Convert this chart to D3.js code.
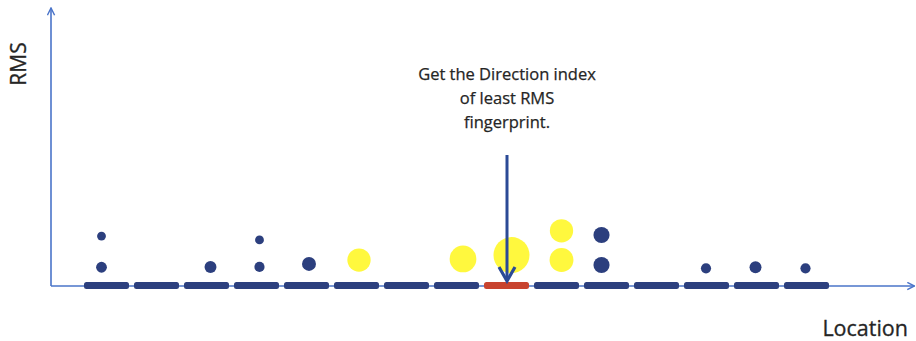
<!DOCTYPE html>
<html>
<head>
<meta charset="utf-8">
<script src="https://cdn.jsdelivr.net/npm/d3@7"></script>
<style>
  html, body { margin: 0; padding: 0; background: #fff; }
  svg { display: block; }
</style>
</head>
<body>
<svg id="chart" width="916" height="341"></svg>
<script>
// ---- data ----
const locations = [1, 2, 3, 4, 5, 6, 7, 8, 9, 10, 11, 12, 13, 14, 15];
const selectedLocation = 9;
const dotLocation = [0.90, 0.90, 3.08, 4.06, 4.06, 5.05, 6.05, 8.13, 9.10, 10.10, 10.10, 10.90, 10.90, 12.99, 13.98, 14.98];
const dotRMS      = [6.8, 18.1, 6.9, 6.9, 16.7, 8.0, 9.4, 9.8, 11.2, 20.0, 9.4, 18.5, 7.6, 6.4, 6.8, 6.4];
const dotWeight   = [9, 6, 11, 8, 6, 15, 42, 55, 100, 42, 44, 20, 20, 8, 11, 8];
const dotGroup    = ["n", "n", "n", "n", "n", "n", "y", "y", "y", "y", "y", "n", "n", "n", "n", "n"];
const annotation  = ["Get the Direction index", "of least RMS", "fingerprint."];
const xTitle = "Location";
const yTitle = "RMS";

// ---- drawing ----
const svg = d3.select("#chart");
const axisColor = "#4A74C9";
const navy = "#2C3F7E";
const red = "#C8432F";
const yellow = "#FFF72E";
const textColor = "#252525";

const x = d3.scaleLinear().domain([0, 17.1]).range([56.5, 911.5]);
const y = d3.scaleLinear().domain([0, 100]).range([286, 10]);
const r = d3.scaleSqrt().domain([0, 100]).range([0, 18]);
const axisX0 = 51;

const defs = svg.append("defs");
function arrowMarker(id, color, w) {
  defs.append("marker")
    .attr("id", id).attr("viewBox", "0 0 10 10")
    .attr("refX", 9).attr("refY", 5)
    .attr("markerWidth", w).attr("markerHeight", w)
    .attr("markerUnits", "userSpaceOnUse")
    .attr("orient", "auto")
    .append("path").attr("d", "M1,1 L9,5 L1,9")
    .attr("fill", "none").attr("stroke", color).attr("stroke-width", 1.6);
}
arrowMarker("axArrow", axisColor, 9);

// axes
svg.append("line")
  .attr("x1", axisX0).attr("y1", y(0)).attr("x2", axisX0).attr("y2", y(100) - 2)
  .attr("stroke", axisColor).attr("stroke-width", 1.6)
  .attr("marker-end", "url(#axArrow)");
svg.append("line")
  .attr("x1", axisX0).attr("y1", y(0)).attr("x2", x(17.1) + 3).attr("y2", y(0))
  .attr("stroke", axisColor).attr("stroke-width", 1.6)
  .attr("marker-end", "url(#axArrow)");

// location segments
const segW = 45, segH = 7;
svg.append("g").selectAll("rect").data(locations).join("rect")
  .attr("x", d => x(d) - segW / 2)
  .attr("y", y(0) - 4)
  .attr("width", segW).attr("height", segH)
  .attr("rx", 2.5).attr("ry", 2.5)
  .attr("fill", d => d === selectedLocation ? red : navy);

// dots
const dots = dotLocation.map((l, i) => ({ l, v: dotRMS[i], w: dotWeight[i], g: dotGroup[i] }));
svg.append("g").selectAll("circle").data(dots).join("circle")
  .attr("cx", d => x(d.l))
  .attr("cy", d => y(d.v))
  .attr("r", d => r(d.w))
  .attr("fill", d => d.g === "y" ? yellow : navy)
  .attr("opacity", d => d.g === "y" ? 0.92 : 1);

// pointer arrow
const px = x(selectedLocation) + 0.5;
svg.append("line")
  .attr("x1", px).attr("y1", 155).attr("x2", px).attr("y2", 281)
  .attr("stroke", "#2B4A96").attr("stroke-width", 3);
svg.append("path")
  .attr("d", `M${px - 8},${267} L${px},${281} L${px + 8},${267}`)
  .attr("fill", "none").attr("stroke", "#2B4A96").attr("stroke-width", 3.2)
  .attr("stroke-linejoin", "miter");

// annotation text
svg.append("g").selectAll("text").data(annotation).join("text")
  .attr("x", px)
  .attr("y", (d, i) => 80 + i * 24)
  .attr("text-anchor", "middle")
  .attr("font-family", "Open Sans, sans-serif")
  .attr("font-size", 16.5)
  .attr("fill", textColor)
  .attr("stroke", textColor).attr("stroke-width", 0.25)
  .text(d => d);

// axis titles
svg.append("text")
  .attr("transform", `translate(26,64) rotate(-90)`)
  .attr("text-anchor", "middle")
  .attr("font-family", "Open Sans, sans-serif")
  .attr("font-size", 21)
  .attr("fill", textColor)
  .attr("stroke", textColor).attr("stroke-width", 0.3)
  .text(yTitle);
svg.append("text")
  .attr("x", 908).attr("y", 336)
  .attr("text-anchor", "end")
  .attr("font-family", "Open Sans, sans-serif")
  .attr("font-size", 21.5)
  .attr("fill", textColor)
  .attr("stroke", textColor).attr("stroke-width", 0.3)
  .text(xTitle);
</script>
</body>
</html>
